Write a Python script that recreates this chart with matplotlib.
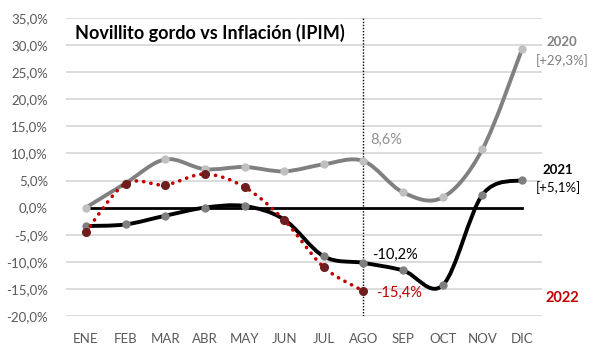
import numpy as np
import matplotlib.pyplot as plt
from matplotlib.path import Path
from matplotlib.patches import PathPatch

plt.rcParams['font.family'] = ['Lato', 'DejaVu Sans']

# -------- data --------
meses = ["ENE", "FEB", "MAR", "ABR", "MAY", "JUN", "JUL", "AGO", "SEP", "OCT", "NOV", "DIC"]
v2020 = [0.0, 4.5, 8.9, 7.1, 7.5, 6.7, 8.0, 8.6, 2.8, 1.9, 10.8, 29.3]
v2021 = [-3.4, -3.1, -1.5, 0.0, 0.3, -2.2, -9.0, -10.2, -11.6, -14.3, 2.4, 5.1]
v2022 = [-4.5, 4.4, 4.2, 6.2, 3.8, -2.3, -11.0, -15.4]
yticks = [35, 30, 25, 20, 15, 10, 5, 0, -5, -10, -15, -20]


def smooth_path(ys):
    # Excel-like smoothed line (Catmull-Rom as cubic Bezier)
    xs = np.arange(len(ys), dtype=float)
    ys = np.asarray(ys, dtype=float)
    pts = np.column_stack([xs, ys])
    verts = [pts[0]]
    codes = [Path.MOVETO]
    n = len(pts)
    for i in range(n - 1):
        p0 = pts[max(i - 1, 0)]
        p1 = pts[i]
        p2 = pts[i + 1]
        p3 = pts[min(i + 2, n - 1)]
        c1 = p1 + (p2 - p0) / 6.0
        c2 = p2 - (p3 - p1) / 6.0
        verts += [c1, c2, p2]
        codes += [Path.CURVE4] * 3
    return Path(verts, codes)


fig = plt.figure(figsize=(6, 3.55), dpi=100)
ax = fig.add_axes([66 / 600, 39 / 355, 476 / 600, 298 / 355])
ax.set_xlim(-0.5, 11.5)
ax.set_ylim(-20, 35)

for t in yticks:
    if t != 0:
        ax.axhline(t, color="#d9d9d9", lw=1.3, zorder=0)
ax.plot([0, 11], [0, 0], color="black", lw=2, zorder=1)

# 2020
ax.add_patch(PathPatch(smooth_path(v2020), fill=False, ec="#808080", lw=2.8, zorder=2,
                       capstyle="round", joinstyle="round"))
ax.plot(range(12), v2020, ls="none", marker="o", ms=5, color="#c0c0c0", zorder=3)

# 2021
ax.add_patch(PathPatch(smooth_path(v2021), fill=False, ec="black", lw=2.8, zorder=4,
                       capstyle="round", joinstyle="round"))
ax.plot(range(12), v2021, ls="none", marker="o", ms=5, color="#7f7f7f", zorder=5)

# 2022
ax.add_patch(PathPatch(smooth_path(v2022), fill=False, ec="#c00000", lw=2.6, zorder=6,
                       linestyle=(0, (0.05, 2.0)), capstyle="round"))
ax.plot(range(len(v2022)), v2022, ls="none", marker="o", ms=5.5, color="#6e1e1e", zorder=7)

# vertical marker at AGO
ax.axvline(7, color="black", lw=1, ls=(0, (1, 1.2)), zorder=1)

for s in ax.spines.values():
    s.set_visible(False)
ax.set_xticks(range(12))
ax.set_xticklabels(meses)
ax.set_yticks(yticks)
ax.set_yticklabels([f"{t:.1f}%".replace(".", ",") for t in yticks])
ax.tick_params(axis="both", length=0, labelsize=9.5, colors="#595959")
ax.tick_params(axis="y", pad=13)
ax.tick_params(axis="x", pad=12)

ax.text(75 / 600, 1 - 33 / 355, "Novillito gordo vs Inflación (IPIM)", transform=fig.transFigure,
        fontsize=13, fontweight="bold", va="center", ha="left", color="black")

ax.text(562 / 600, 1 - 42 / 355, "2020", transform=fig.transFigure, fontsize=9.5,
        fontweight="bold", color="#808080", ha="center", va="center")
ax.text(562 / 600, 1 - 61 / 355, "[+29,3%]", transform=fig.transFigure, fontsize=9.5,
        color="#808080", ha="center", va="center")
ax.text(558 / 600, 1 - 170 / 355, "2021", transform=fig.transFigure, fontsize=9.5,
        fontweight="bold", color="black", ha="center", va="center")
ax.text(558 / 600, 1 - 188 / 355, "[+5,1%]", transform=fig.transFigure, fontsize=9.5,
        color="black", ha="center", va="center")
ax.text(562 / 600, 1 - 298 / 355, "2022", transform=fig.transFigure, fontsize=10.5,
        fontweight="bold", color="#c00000", ha="center", va="center")

ax.text(370 / 600, 1 - 140 / 355, "8,6%", transform=fig.transFigure, fontsize=10.5,
        color="#909090", ha="left", va="center")
ax.text(372 / 600, 1 - 255 / 355, "-10,2%", transform=fig.transFigure, fontsize=10.5,
        color="black", ha="left", va="center")
ax.text(376 / 600, 1 - 293 / 355, "-15,4%", transform=fig.transFigure, fontsize=10.5,
        color="#c00000", ha="left", va="center")

fig.savefig("out.png", dpi=100)
